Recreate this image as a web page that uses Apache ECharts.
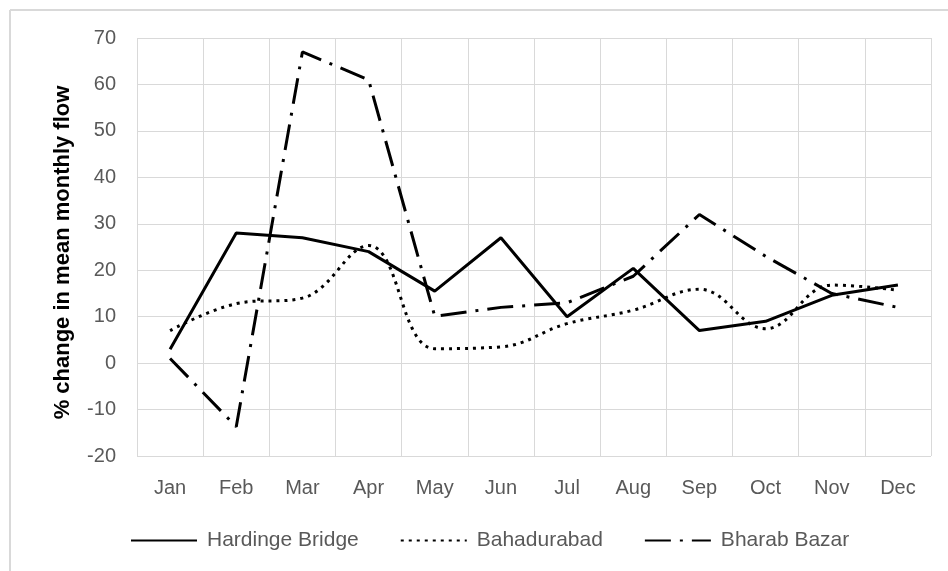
<!DOCTYPE html>
<html>
<head>
<meta charset="utf-8">
<script src="https://cdn.jsdelivr.net/npm/echarts@6/dist/echarts.min.js"></script>
<style>
  html, body { margin: 0; padding: 0; background: #fff; }
  #chart { width: 948px; height: 571px; }
</style>
</head>
<body>
<div id="chart"></div>
<script>
// months on the x axis
var months = ['Jan', 'Feb', 'Mar', 'Apr', 'May', 'Jun', 'Jul', 'Aug', 'Sep', 'Oct', 'Nov', 'Dec']
// % change in mean monthly flow
var hardingeBridge = [3, 28, 27, 24, 15.5, 27, 10, 20.4, 7, 9, 14.6, 16.8]
var bahadurabad = [7, 12.8, 14, 25.3, 3.1, 3.5, 8.5, 11.4, 15.9, 7.4, 16.8, 15.7]
var bharabBazar = [1, -13.7, 67, 61, 10.1, 12, 13, 18.7, 32, 23, 15, 12]

var font = 'Liberation Sans'
var gray = '#595959'

var chart = echarts.init(document.getElementById('chart'))
chart.setOption({
  animation: false,
  grid: { left: 137, right: 17, top: 38, bottom: 115 },
  // outer frame of the chart area (only top and left edge show)
  graphic: [
    { type: 'line', shape: { x1: 10, y1: 10, x2: 948, y2: 10 }, style: { stroke: '#d9d9d9', lineWidth: 2 } },
    { type: 'line', shape: { x1: 10, y1: 10, x2: 10, y2: 571 }, style: { stroke: '#d9d9d9', lineWidth: 2 } }
  ],
  legend: {
    bottom: 15,
    left: 125,
    itemWidth: 66,
    itemHeight: 12,
    itemGap: 41,
    itemStyle: { opacity: 0 },
    textStyle: { fontFamily: font, fontSize: 21, color: gray, padding: [0, 0, 0, 5] },
    data: ['Hardinge Bridge', 'Bahadurabad', 'Bharab Bazar']
  },
  xAxis: {
    type: 'category',
    data: months,
    boundaryGap: true,
    axisLine: { show: false },
    axisTick: { show: false },
    axisLabel: { margin: 22, fontFamily: font, fontSize: 20, color: gray },
    splitLine: { show: true, lineStyle: { color: '#d9d9d9', width: 1 } }
  },
  yAxis: {
    type: 'value',
    min: -20,
    max: 70,
    interval: 10,
    name: '% change in mean monthly flow',
    nameLocation: 'middle',
    nameGap: 63,
    nameTextStyle: { fontFamily: font, fontSize: 22, fontWeight: 'bold', color: '#000', padding: [0, 11, 0, 0] },
    axisLine: { show: false },
    axisTick: { show: false },
    axisLabel: { margin: 21, fontFamily: font, fontSize: 20, color: gray },
    splitLine: { show: true, lineStyle: { color: '#d9d9d9', width: 1 } }
  },
  series: [
    {
      name: 'Hardinge Bridge',
      type: 'line',
      data: hardingeBridge,
      symbol: 'none',
      itemStyle: { color: '#000' },
      lineStyle: { color: '#000', width: 3 }
    },
    {
      name: 'Bahadurabad',
      type: 'line',
      data: bahadurabad,
      symbol: 'none',
      smooth: 0.4,
      itemStyle: { color: '#000' },
      lineStyle: { color: '#000', width: 3, type: [3, 5] }
    },
    {
      name: 'Bharab Bazar',
      type: 'line',
      data: bharabBazar,
      symbol: 'none',
      itemStyle: { color: '#000' },
      lineStyle: { color: '#000', width: 3, type: [26, 9, 3, 9] }
    }
  ]
})
</script>
</body>
</html>
